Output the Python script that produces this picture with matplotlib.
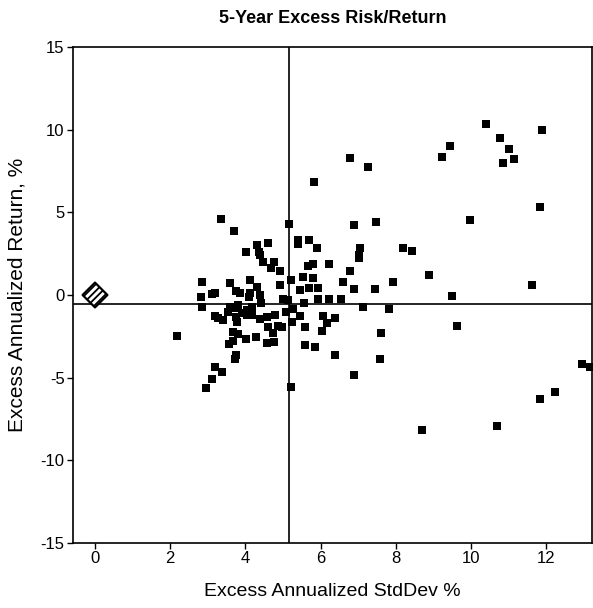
import matplotlib
matplotlib.use("Agg")
import matplotlib.pyplot as plt

# Data: (excess annualized std dev %, excess annualized return %)
std_dev = [
    10.39, 11.89, 10.78, 11.01, 9.45, 9.23, 10.84, 11.14, 6.77, 7.26,
    5.83, 11.85, 9.98, 6.88, 7.47, 5.17, 3.35, 3.71, 5.40, 5.40,
    5.68, 5.90, 7.06, 7.01, 7.01, 8.20, 8.43, 5.67, 5.80, 6.22,
    6.77, 8.88, 6.60, 7.93, 11.63, 5.21, 5.53, 5.80, 5.45, 5.70,
    5.92, 6.88, 7.44, 9.50, 5.01, 5.14, 5.57, 5.93, 6.22, 6.55,
    7.14, 7.81, 5.08, 5.26, 5.45, 6.06, 6.16, 6.39, 4.97, 5.23,
    5.58, 6.03, 7.61, 9.64, 5.58, 5.85, 6.39, 7.59, 6.88, 5.21,
    12.95, 13.16, 12.23, 11.84, 10.68, 8.69,
    4.02, 4.32, 4.60, 4.35, 4.39, 4.48, 4.77, 4.69, 4.92, 2.84,
    3.58, 4.11, 4.92, 2.82, 3.11, 3.18, 3.75, 3.86, 4.09, 4.32,
    4.39, 2.85, 3.55, 3.72, 3.80, 4.03, 4.17, 4.42, 3.19, 3.28,
    3.41, 3.75, 3.78, 4.03, 4.17, 4.39, 4.57, 4.79, 4.61, 4.88,
    4.74, 3.68, 3.81, 4.02, 4.28, 3.56, 3.66, 4.57, 4.77, 2.17,
    3.75, 3.72, 3.19, 3.37, 3.11, 2.95, 3.90, 3.59, 4.12,
]
excess_return = [
    10.35, 9.98, 9.50, 8.83, 8.99, 8.36, 7.96, 8.22, 8.28, 7.76,
    6.83, 5.32, 4.55, 4.26, 4.44, 4.27, 4.61, 3.85, 3.33, 3.09,
    3.30, 2.82, 2.82, 2.42, 2.21, 2.82, 2.68, 1.78, 1.86, 1.86,
    1.44, 1.21, 0.81, 0.79, 0.62, 0.93, 1.11, 1.01, 0.30, 0.41,
    0.41, 0.38, 0.36, -0.04, -0.26, -0.30, -0.50, -0.26, -0.26, -0.26,
    -0.75, -0.85, -1.01, -0.87, -1.27, -1.27, -1.68, -1.39, -1.92, -1.62,
    -1.96, -2.18, -2.32, -1.90, -3.01, -3.13, -3.65, -3.88, -4.81, -5.56,
    -4.16, -4.36, -5.86, -6.32, -7.94, -8.18,
    2.61, 3.03, 3.13, 2.62, 2.42, 1.98, 2.00, 1.65, 1.45, 0.81,
    0.73, 0.91, 0.59, -0.10, 0.06, 0.10, 0.24, 0.10, -0.12, 0.47,
    0.02, -0.75, -1.01, -0.81, -0.61, -0.91, -0.71, -0.50, -1.27, -1.41,
    -1.52, -1.32, -1.62, -1.21, -1.21, -1.47, -1.35, -1.21, -1.92, -1.86,
    -2.28, -2.26, -2.38, -2.68, -2.53, -2.97, -2.77, -2.89, -2.85, -2.48,
    -3.64, -3.88, -4.35, -4.68, -5.11, -5.62, -1.11, -0.71, 0.10,
]
benchmark_std = [0.0]
benchmark_ret = [0.0]
median_std = 5.16
median_ret = -0.55

x_ticks = [0, 2, 4, 6, 8, 10, 12]
y_ticks = [-15, -10, -5, 0, 5, 10, 15]

FONT = ["Liberation Sans", "DejaVu Sans"]
plt.rcParams["font.family"] = FONT

fig = plt.figure(figsize=(5.93, 6.08), dpi=100)
ax = fig.add_axes([73 / 593, 65 / 608, (592 - 73) / 593, (543 - 47) / 608])

ax.axvline(median_std, color="black", lw=1.2, zorder=1)
ax.axhline(median_ret, color="black", lw=1.2, zorder=1)

ax.scatter(std_dev, excess_return, marker="s", s=32, color="black",
           linewidths=0, zorder=3)
plt.rcParams["hatch.linewidth"] = 1.3
ax.scatter(benchmark_std, benchmark_ret, marker="D", s=160, facecolor="white",
           edgecolor="black", hatch="/////", linewidths=1.6, zorder=4)

ax.set_xlim(-0.585, 13.22)
ax.set_ylim(-15, 15)
ax.set_xticks(x_ticks)
ax.set_yticks(y_ticks)
ax.set_xticklabels([str(t) for t in x_ticks])
ax.set_yticklabels([str(t) for t in y_ticks])
ax.tick_params(direction="out", length=4, width=1, labelsize=12, pad=2)
for s in ax.spines.values():
    s.set_linewidth(1.2)

ax.set_title("5-Year Excess Risk/Return", fontsize=13, fontweight="bold",
             pad=17)
ax.set_xlabel("Excess Annualized StdDev %", fontsize=14, labelpad=12)
ax.set_ylabel("Excess Annualized Return, %", fontsize=15, labelpad=10)

fig.savefig("out.png", dpi=100)
